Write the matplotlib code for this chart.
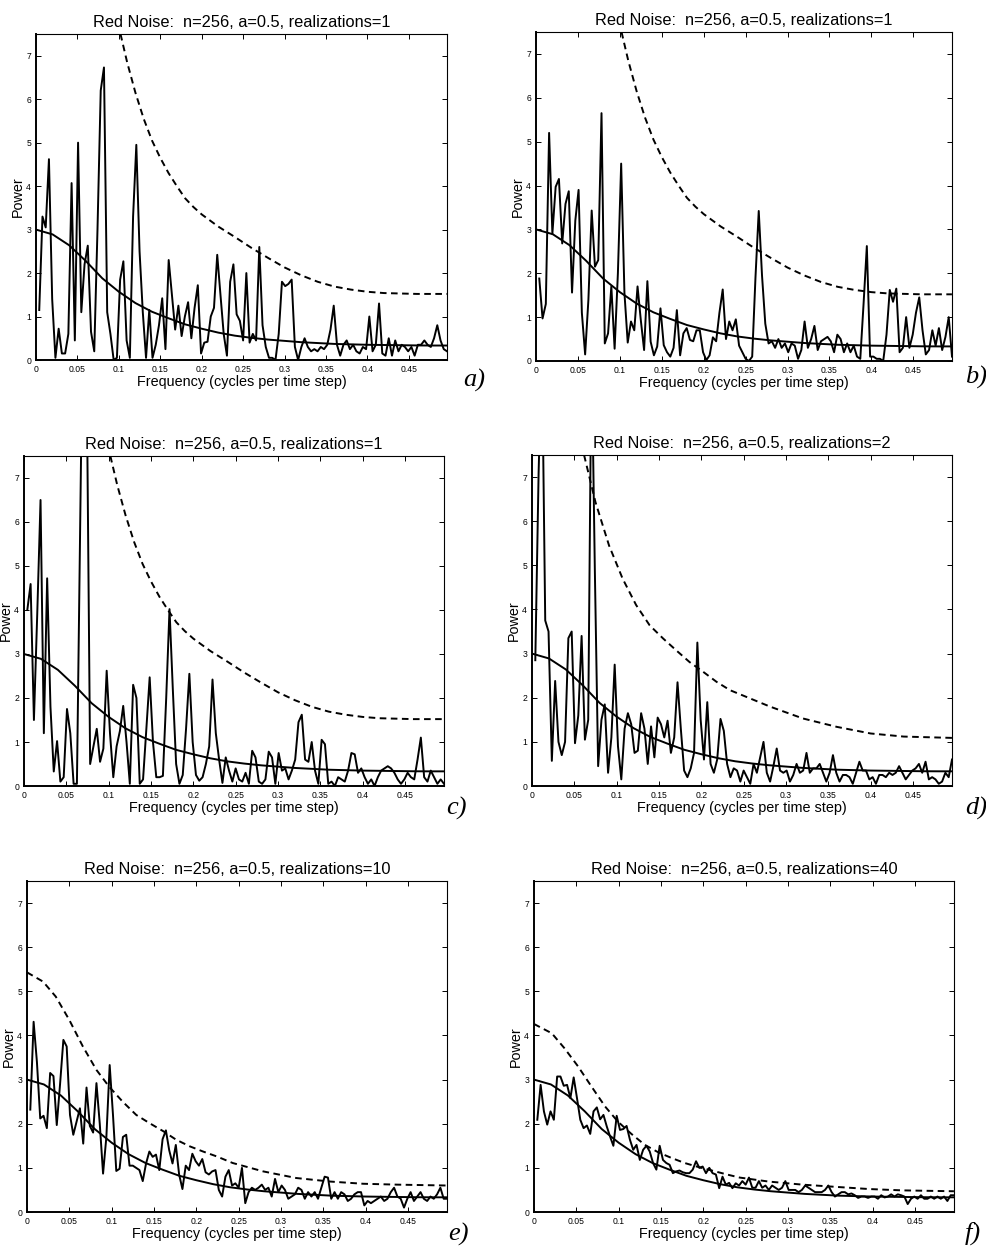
"""
Red noise power spectra for single and averaged realizations
"""
import numpy as np
import matplotlib.pyplot as plt

plt.rcParams["font.family"] = ["Liberation Sans", "DejaVu Sans"]

W, H = 987, 1247
N = 256
FREQ = np.arange(1, N // 2) / N          # harmonics 1..127
F_MAX = (N // 2 - 1) / N

# sample spectra, one value per harmonic
power_a = [1.15, 3.3, 3.05, 4.62, 1.4, 0.05, 0.72, 0.15, 0.15, 0.6,
           4.07, 0.45, 5.0, 1.1, 2.2, 2.63, 0.65, 0.2, 3.0, 6.2,
           6.73, 1.1, 0.6, 0.0, 0.05, 1.85, 2.27, 0.45, 0.05, 3.3,
           4.95, 2.5, 1.1, 0.05, 1.15, 0.05, 0.35, 0.8, 1.42, 0.25,
           2.3, 1.5, 0.7, 1.25, 0.55, 1.0, 1.33, 0.5, 1.2, 1.72,
           0.15, 0.4, 0.42, 1.0, 1.2, 2.42, 1.5, 0.6, 0.1, 1.8,
           2.2, 1.05, 0.9, 0.45, 2.0, 0.4, 0.6, 0.45, 2.6, 0.8,
           0.3, 0.05, 0.05, 0.0, 0.6, 1.8, 1.7, 1.75, 1.85, 0.3,
           0.0, 0.3, 0.5, 0.3, 0.2, 0.25, 0.2, 0.3, 0.25, 0.35,
           0.7, 1.25, 0.35, 0.1, 0.35, 0.45, 0.25, 0.35, 0.2, 0.15,
           0.3, 0.25, 1.0, 0.2, 0.35, 1.3, 0.15, 0.1, 0.5, 0.1,
           0.45, 0.2, 0.35, 0.3, 0.2, 0.3, 0.1, 0.35, 0.35, 0.45,
           0.35, 0.3, 0.5, 0.8, 0.45, 0.25, 0.2]

power_b = [1.88, 0.97, 1.3, 5.2, 2.9, 3.97, 4.15, 2.68, 3.58, 3.87,
           1.56, 3.2, 3.9, 1.1, 0.15, 1.4, 3.43, 2.15, 2.3, 5.65,
           0.4, 0.63, 1.7, 0.28, 2.0, 4.5, 1.55, 0.42, 0.9, 0.7,
           1.7, 0.93, 0.25, 1.82, 0.44, 0.13, 0.33, 1.2, 0.36, 0.2,
           0.1, 0.3, 1.16, 0.13, 0.63, 0.75, 0.48, 0.45, 0.7, 0.7,
           0.2, 0.02, 0.13, 0.54, 0.45, 1.1, 1.63, 0.5, 0.9, 0.7,
           0.95, 0.35, 0.2, 0.05, 0.0, 0.1, 1.9, 3.42, 1.95, 0.85,
           0.4, 0.45, 0.3, 0.5, 0.3, 0.4, 0.2, 0.4, 0.35, 0.05,
           0.25, 0.9, 0.3, 0.5, 0.8, 0.25, 0.45, 0.5, 0.55, 0.45,
           0.2, 0.6, 0.5, 0.2, 0.4, 0.2, 0.35, 0.1, 0.05, 1.3,
           2.62, 0.1, 0.1, 0.05, 0.05, 0.0, 0.6, 1.62, 1.35, 1.65,
           0.2, 0.3, 1.0, 0.3, 0.6, 1.1, 1.45, 0.7, 0.15, 0.25,
           0.7, 0.35, 0.75, 0.25, 0.55, 1.0, 0.1]

power_c = [4.0, 4.59, 1.5, 3.9, 6.5, 1.2, 4.72, 1.8, 0.33, 1.02,
           0.1, 0.2, 1.75, 1.2, 0.05, 0.05, 6.0, 12.0, 9.0, 0.5,
           0.9, 1.3, 0.55, 0.85, 2.62, 1.2, 0.2, 0.9, 1.25, 1.82,
           1.0, 0.05, 2.3, 2.0, 0.05, 0.15, 1.3, 2.47, 1.0, 0.2,
           0.2, 0.23, 2.0, 4.02, 2.2, 0.5, 0.05, 0.25, 1.3, 2.55,
           1.0, 0.25, 0.12, 0.2, 0.5, 0.9, 2.42, 1.2, 0.6, 0.07,
           0.65, 0.35, 0.1, 0.4, 0.15, 0.1, 0.3, 0.05, 0.8, 0.65,
           0.1, 0.05, 0.15, 0.78, 0.65, 0.05, 0.75, 0.35, 0.4, 0.15,
           0.35, 0.6, 1.45, 1.62, 0.6, 0.55, 1.0, 0.35, 0.05, 1.05,
           0.95, 0.05, 0.1, 0.0, 0.2, 0.15, 0.1, 0.35, 0.75, 0.72,
           0.3, 0.4, 0.2, 0.05, 0.15, 0.0, 0.2, 0.35, 0.4, 0.45,
           0.4, 0.3, 0.15, 0.05, 0.15, 0.3, 0.2, 0.15, 0.6, 1.1,
           0.2, 0.1, 0.35, 0.2, 0.05, 0.15, 0.05]

power_d = [2.85, 7.1, 10.0, 3.75, 3.5, 0.57, 2.38, 1.0, 0.7, 1.0,
           3.35, 3.5, 0.97, 1.6, 3.4, 1.05, 1.5, 10.0, 4.9, 0.45,
           1.5, 1.85, 0.3, 1.1, 2.75, 0.9, 0.15, 1.3, 1.65, 1.4,
           0.75, 0.8, 1.65, 1.3, 0.5, 1.35, 0.65, 1.55, 1.4, 1.1,
           1.48, 0.75, 1.1, 2.35, 1.3, 0.35, 0.2, 0.4, 0.75, 3.25,
           1.5, 0.6, 1.9, 0.5, 0.3, 0.6, 1.52, 1.25, 0.5, 0.2,
           0.4, 0.35, 0.1, 0.35, 0.2, 0.05, 0.5, 0.3, 0.65, 1.0,
           0.3, 0.1, 0.45, 0.85, 0.35, 0.3, 0.35, 0.1, 0.25, 0.5,
           0.3, 0.35, 0.75, 0.3, 0.4, 0.4, 0.5, 0.3, 0.1, 0.3,
           0.7, 0.3, 0.1, 0.25, 0.25, 0.2, 0.05, 0.3, 0.55, 0.35,
           0.35, 0.15, 0.2, 0.05, 0.25, 0.25, 0.2, 0.3, 0.25, 0.3,
           0.45, 0.3, 0.15, 0.25, 0.35, 0.4, 0.5, 0.3, 0.55, 0.15,
           0.2, 0.15, 0.05, 0.1, 0.3, 0.2, 0.6]

power_e = [2.32, 4.31, 3.4, 2.12, 2.18, 1.9, 3.15, 3.08, 1.97, 2.9,
           3.9, 3.75, 2.2, 1.75, 2.05, 2.35, 1.55, 2.82, 1.95, 1.8,
           2.92, 2.0, 0.87, 1.7, 3.33, 2.2, 0.93, 0.98, 1.7, 1.75,
           1.05, 1.05, 1.0, 0.95, 0.7, 1.1, 1.37, 1.25, 1.3, 0.95,
           1.65, 1.85, 1.4, 1.1, 1.52, 0.85, 0.52, 1.05, 0.95, 1.32,
           1.15, 1.05, 1.2, 0.9, 0.85, 0.92, 0.95, 0.5, 0.35, 0.8,
           0.95, 0.6, 0.65, 0.55, 1.0, 0.2, 0.45, 0.55, 0.5, 0.55,
           0.62, 0.5, 0.55, 0.35, 0.75, 0.45, 0.6, 0.5, 0.3, 0.35,
           0.4, 0.55, 0.5, 0.3, 0.45, 0.35, 0.45, 0.3, 0.55, 0.8,
           0.78, 0.3, 0.45, 0.3, 0.45, 0.4, 0.25, 0.3, 0.4, 0.45,
           0.45, 0.15, 0.25, 0.2, 0.25, 0.3, 0.35, 0.25, 0.3, 0.45,
           0.55, 0.35, 0.3, 0.1, 0.3, 0.45, 0.25, 0.35, 0.45, 0.3,
           0.25, 0.35, 0.3, 0.4, 0.55, 0.3, 0.3]

power_f = [2.09, 2.88, 2.28, 1.98, 2.28, 2.09, 3.07, 3.07, 2.86, 2.88,
           2.58, 3.05, 2.58, 2.09, 1.9, 1.96, 1.77, 2.28, 2.37, 2.1,
           2.2, 1.94, 1.71, 1.5, 2.18, 1.86, 1.88, 1.95, 1.64, 1.41,
           1.52, 1.18, 1.41, 1.5, 1.37, 1.11, 0.96, 1.5, 1.18, 1.11,
           1.07, 0.88, 0.92, 0.94, 0.9, 0.88, 0.88, 0.96, 1.15, 1.0,
           1.03, 0.88, 1.0, 0.88, 0.85, 0.54, 0.8, 0.62, 0.66, 0.54,
           0.65, 0.6, 0.7, 0.62, 0.78, 0.55, 0.55, 0.7, 0.55, 0.6,
           0.5, 0.6, 0.55, 0.5, 0.55, 0.7, 0.5, 0.5, 0.5, 0.45,
           0.5, 0.6, 0.55, 0.5, 0.45, 0.45, 0.45, 0.5, 0.6, 0.45,
           0.35, 0.4, 0.45, 0.45, 0.4, 0.42, 0.38, 0.32, 0.35, 0.35,
           0.32, 0.35, 0.35, 0.3, 0.38, 0.33, 0.35, 0.4, 0.35, 0.4,
           0.38, 0.35, 0.18, 0.3, 0.35, 0.3, 0.38, 0.3, 0.3, 0.35,
           0.3, 0.35, 0.3, 0.35, 0.25, 0.38, 0.38]

# theoretical red noise spectrum, a=0.5
red_f = [0, 0.02, 0.04, 0.06, 0.08, 0.10, 0.12, 0.14, 0.16, 0.18, 0.20, 0.22, 0.24,
         0.26, 0.28, 0.30, 0.32, 0.34, 0.36, 0.38, 0.40, 0.42, 0.44, 0.46, 0.48, 0.496]
red_p = [3.0, 2.89, 2.64, 2.28, 1.88, 1.57, 1.31, 1.11, 0.96, 0.82, 0.72, 0.63, 0.56,
         0.51, 0.47, 0.44, 0.41, 0.39, 0.37, 0.36, 0.35, 0.345, 0.34, 0.335, 0.333, 0.333]

# 99% significance levels for 1, 2, 10 and 40 realizations
sig1_f = [0.102, 0.11, 0.12, 0.13, 0.14, 0.15, 0.16, 0.17, 0.18, 0.19, 0.20, 0.22, 0.24,
          0.26, 0.28, 0.30, 0.32, 0.34, 0.36, 0.38, 0.40, 0.42, 0.44, 0.46, 0.48, 0.496]
sig1_p = [7.5, 6.85, 6.15, 5.55, 5.05, 4.65, 4.3, 4.0, 3.72, 3.52, 3.35, 3.07, 2.83,
          2.58, 2.35, 2.13, 1.95, 1.8, 1.69, 1.62, 1.57, 1.54, 1.53, 1.52, 1.52, 1.52]

sig2_f = [0.0615, 0.075, 0.091, 0.107, 0.123, 0.139, 0.155, 0.170, 0.186, 0.202,
          0.218, 0.234, 0.248, 0.281, 0.320, 0.360, 0.400, 0.439, 0.496]
sig2_p = [7.5, 6.43, 5.45, 4.7, 4.1, 3.64, 3.34, 3.08, 2.81, 2.59,
          2.36, 2.17, 2.06, 1.8, 1.53, 1.34, 1.19, 1.12, 1.09]

sig10_f = [0.0, 0.019, 0.034, 0.05, 0.066, 0.082, 0.097, 0.113, 0.129, 0.145, 0.161,
           0.176, 0.192, 0.208, 0.224, 0.243, 0.279, 0.318, 0.358, 0.397, 0.437, 0.496]
sig10_p = [5.43, 5.22, 4.88, 4.35, 3.75, 3.22, 2.84, 2.5, 2.2, 2.01, 1.83,
           1.64, 1.49, 1.37, 1.26, 1.11, 0.92, 0.77, 0.69, 0.64, 0.62, 0.6]

sig40_f = [0.0, 0.021, 0.036, 0.052, 0.068, 0.084, 0.099, 0.115, 0.131, 0.147, 0.163,
           0.178, 0.194, 0.21, 0.23, 0.243, 0.277, 0.317, 0.356, 0.396, 0.435, 0.496]
sig40_p = [4.26, 4.05, 3.71, 3.3, 2.84, 2.39, 2.05, 1.77, 1.52, 1.35, 1.22,
           1.11, 1.02, 0.94, 0.84, 0.78, 0.69, 0.62, 0.57, 0.52, 0.49, 0.47]

REALIZATIONS = [1, 1, 1, 2, 10, 40]
LETTERS = ["a", "b", "c", "d", "e", "f"]
POWERS = [power_a, power_b, power_c, power_d, power_e, power_f]
SIGNIF = [(sig1_f, sig1_p), (sig1_f, sig1_p), (sig1_f, sig1_p),
          (sig2_f, sig2_p), (sig10_f, sig10_p), (sig40_f, sig40_p)]

# axes boxes in pixels (left, top, right, bottom) and letter anchors
BOXES = [(36, 34, 447, 360), (536, 32, 952, 361),
         (24, 456, 444, 786), (532, 455, 952, 786),
         (27, 881, 447, 1212), (534, 881, 954, 1212)]
LETTER_XY = [(463, 380), (965, 377), (446, 808), (965, 808), (448, 1234), (965, 1233)]

XTICKS = [0, 0.05, 0.1, 0.15, 0.2, 0.25, 0.3, 0.35, 0.4, 0.45]
XTICK_LABELS = ["0", "0.05", "0.1", "0.15", "0.2", "0.25", "0.3", "0.35", "0.4", "0.45"]
YTICKS = [0, 1, 2, 3, 4, 5, 6, 7]


def spectrum_panel(fig, box, power, signif, realizations):
    left, top, right, bottom = box
    w, h = right - left, bottom - top
    ax = fig.add_axes([left / W, 1 - bottom / H, w / W, h / H])

    ax.plot(FREQ, power, color="k", lw=1.4)
    ax.plot(red_f, red_p, color="k", lw=1.4)
    ax.plot(signif[0], signif[1], color="k", lw=1.4, ls=(0, (3.4, 2.3)))

    ax.set_xlim(0, F_MAX)
    ax.set_ylim(0, 7.5)
    ax.set_xticks(XTICKS)
    ax.set_xticklabels(XTICK_LABELS)
    ax.set_yticks(YTICKS)
    ax.tick_params(direction="in", top=True, right=True, length=3.6, width=0.7,
                   labelsize=6.2, pad=3.5)
    for side in ["left", "bottom"]:
        ax.spines[side].set_linewidth(1.4)
    for side in ["top", "right"]:
        ax.spines[side].set_linewidth(0.8)

    ax.set_title("Red Noise:  n=256, a=0.5, realizations=%d" % realizations,
                 fontsize=11.8, pad=5.2)
    ax.set_xlabel("Frequency (cycles per time step)", fontsize=10.4)
    ax.set_ylabel("Power", fontsize=10.4)
    ax.xaxis.set_label_coords(0.5, -15 / h)
    ax.yaxis.set_label_coords(-11 / w, 0.5)
    return ax


fig = plt.figure(figsize=(W / 100, H / 100), dpi=100)
for i in range(6):
    spectrum_panel(fig, BOXES[i], POWERS[i], SIGNIF[i], REALIZATIONS[i])
    x, y = LETTER_XY[i]
    fig.text(x / W, 1 - y / H, LETTERS[i] + ")", ha="left", va="center",
             fontsize=19, family="Liberation Serif", style="italic")

fig.savefig("out.png", dpi=100)
